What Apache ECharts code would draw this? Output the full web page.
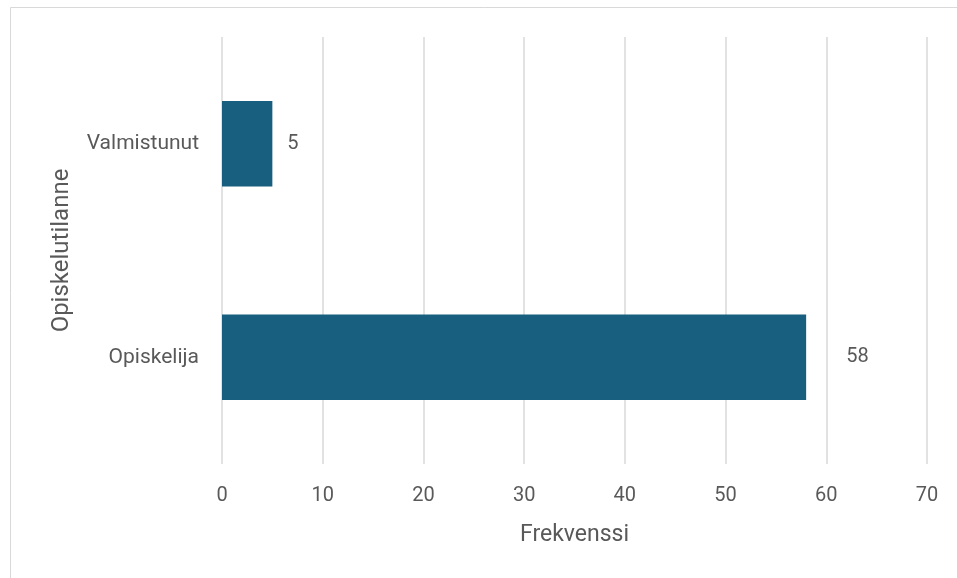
<!DOCTYPE html>
<html>
<head>
<meta charset="utf-8">
<script src="https://cdn.jsdelivr.net/npm/echarts@6/dist/echarts.min.js"></script>
<style>
  html, body { margin: 0; padding: 0; background: #ffffff; }
  #chart { width: 957px; height: 578px; }
</style>
</head>
<body>
<div id="chart"></div>
<script>
// Study status categories (bottom to top) and their frequencies
const categories = ['Opiskelija', 'Valmistunut'];
const counts = [58, 5];
const xTicks = [0, 10, 20, 30, 40, 50, 60, 70];

const FONT = 'Roboto, "Noto Sans", sans-serif';
const TEXT = '#595959';
const GRID = '#d9d9d9';
const BAR = '#175e7f';

const chart = echarts.init(document.getElementById('chart'), null, { renderer: 'canvas' });

chart.setOption({
  backgroundColor: '#ffffff',
  animation: false,
  graphic: [{
    type: 'rect',
    silent: true,
    shape: { x: 10.5, y: 7.5, width: 2000, height: 2000 },
    style: { fill: 'none', stroke: GRID, lineWidth: 1 }
  }],
  grid: { left: 222, right: 30, top: 37, bottom: 114 },
  xAxis: {
    type: 'value',
    min: xTicks[0],
    max: xTicks[xTicks.length - 1],
    interval: 10,
    name: 'Frekvenssi',
    nameLocation: 'middle',
    nameGap: 60,
    nameTextStyle: { color: TEXT, fontSize: 23, fontFamily: FONT },
    axisLine: { show: false },
    axisTick: { show: false },
    axisLabel: { color: TEXT, fontSize: 20, fontFamily: FONT, margin: 22 },
    splitLine: { show: true, lineStyle: { color: GRID, width: 1.5 } }
  },
  yAxis: {
    type: 'category',
    data: categories,
    name: 'Opiskelutilanne',
    nameLocation: 'middle',
    nameGap: 148,
    nameRotate: 90,
    nameTextStyle: { color: TEXT, fontSize: 24, fontFamily: FONT },
    axisLine: { show: false },
    axisTick: { show: false },
    axisLabel: { color: TEXT, fontSize: 21, fontFamily: FONT, margin: 23 },
    splitLine: { show: false }
  },
  series: [{
    type: 'bar',
    barWidth: '40%',
    itemStyle: { color: BAR },
    label: {
      show: true,
      position: 'right',
      color: TEXT,
      fontSize: 20,
      fontFamily: FONT
    },
    data: counts.map((v, i) => ({
      value: v,
      label: { distance: i === 0 ? 40 : 15 }
    }))
  }]
});
</script>
</body>
</html>
